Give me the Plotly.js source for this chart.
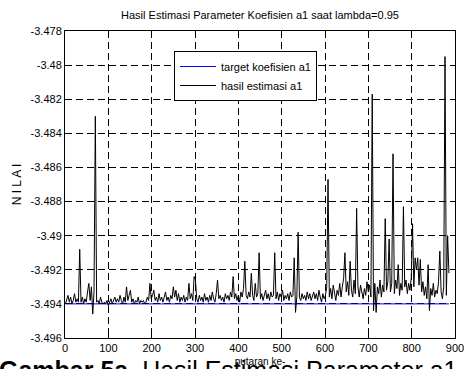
<!DOCTYPE html>
<html>
<head>
<meta charset="utf-8">
<script src="https://cdn.plot.ly/plotly-3.0.1.min.js"></script>
<style>
  html, body { margin: 0; padding: 0; background: #fff; }
  #chart { width: 464px; height: 369px; }
</style>
</head>
<body>
<div id="chart"></div>
<script>
// ---- data ----
const chartTitle = 'Hasil Estimasi Parameter Koefisien a1 saat lambda=0.95';
const xTitle = 'putaran ke-';
const yTitle = 'N I L A I';
const caption = '<b>Gambar 5a.</b> Hasil Estimasi Parameter a1';
const seriesNames = ['target koefisien a1', 'hasil estimasi a1'];

// target (constant) line
const targetIter = [1, 886];
const targetValue = [-3.494, -3.494];

// estimate: first iteration and spacing of the samples
const estimateFirstIter = 1;
const estimateIterStep = 3;
const estimateValue = [
  -3.4940,-3.4937,-3.4935,-3.4939,-3.4936,-3.4940,-3.4938,-3.4934,-3.4939,-3.4937,
  -3.4939,-3.4908,-3.4939,-3.4936,-3.4940,-3.4937,-3.4939,-3.4933,-3.4928,-3.4938,
  -3.4930,-3.4946,-3.4933,-3.4830,-3.4939,-3.4938,-3.4940,-3.4936,-3.4939,-3.4940,
  -3.4939,-3.4940,-3.4938,-3.4941,-3.4939,-3.4937,-3.4940,-3.4938,-3.4936,-3.4939,
  -3.4937,-3.4939,-3.4935,-3.4938,-3.4940,-3.4936,-3.4939,-3.4930,-3.4938,-3.4935,
  -3.4932,-3.4939,-3.4937,-3.4940,-3.4938,-3.4939,-3.4936,-3.4940,-3.4938,-3.4939,
  -3.4938,-3.4940,-3.4939,-3.4936,-3.4938,-3.4928,-3.4937,-3.4935,-3.4932,-3.4938,
  -3.4936,-3.4939,-3.4934,-3.4938,-3.4936,-3.4939,-3.4935,-3.4933,-3.4938,-3.4936,
  -3.4939,-3.4935,-3.4937,-3.4930,-3.4936,-3.4932,-3.4938,-3.4934,-3.4939,-3.4936,
  -3.4938,-3.4935,-3.4939,-3.4936,-3.4938,-3.4928,-3.4937,-3.4934,-3.4938,-3.4924,
  -3.4926,-3.4937,-3.4939,-3.4935,-3.4938,-3.4936,-3.4939,-3.4934,-3.4938,-3.4936,
  -3.4939,-3.4935,-3.4938,-3.4933,-3.4937,-3.4939,-3.4934,-3.4926,-3.4937,-3.4935,
  -3.4938,-3.4936,-3.4939,-3.4934,-3.4937,-3.4935,-3.4938,-3.4933,-3.4936,-3.4924,
  -3.4937,-3.4934,-3.4938,-3.4935,-3.4939,-3.4933,-3.4936,-3.4931,-3.4915,-3.4935,
  -3.4937,-3.4933,-3.4936,-3.4922,-3.4935,-3.4938,-3.4928,-3.4936,-3.4934,-3.4910,
  -3.4937,-3.4934,-3.4938,-3.4935,-3.4932,-3.4937,-3.4934,-3.4938,-3.4933,-3.4936,
  -3.4935,-3.4910,-3.4937,-3.4933,-3.4938,-3.4934,-3.4936,-3.4932,-3.4938,-3.4935,
  -3.4937,-3.4934,-3.4938,-3.4933,-3.4936,-3.4935,-3.4913,-3.4945,-3.4936,-3.4898,
  -3.4936,-3.4938,-3.4934,-3.4937,-3.4935,-3.4938,-3.4933,-3.4937,-3.4934,-3.4938,
  -3.4936,-3.4933,-3.4937,-3.4934,-3.4938,-3.4932,-3.4936,-3.4939,-3.4934,-3.4937,
  -3.4935,-3.4930,-3.4867,-3.4936,-3.4931,-3.4937,-3.4929,-3.4934,-3.4938,-3.4932,
  -3.4935,-3.4928,-3.4936,-3.4930,-3.4925,-3.4910,-3.4933,-3.4927,-3.4935,-3.4915,
  -3.4932,-3.4936,-3.4926,-3.4934,-3.4884,-3.4930,-3.4936,-3.4929,-3.4933,-3.4937,
  -3.4931,-3.4935,-3.4927,-3.4933,-3.4929,-3.4936,-3.4817,-3.4944,-3.4928,-3.4945,
  -3.4930,-3.4934,-3.4926,-3.4936,-3.4929,-3.4933,-3.4890,-3.4932,-3.4927,-3.4902,
  -3.4933,-3.4928,-3.4852,-3.4934,-3.4926,-3.4931,-3.4917,-3.4935,-3.4928,-3.4932,
  -3.4883,-3.4930,-3.4926,-3.4934,-3.4928,-3.4932,-3.4925,-3.4893,-3.4930,-3.4913,
  -3.4920,-3.4913,-3.4929,-3.4914,-3.4933,-3.4927,-3.4935,-3.4930,-3.4937,-3.4917,
  -3.4944,-3.4931,-3.4935,-3.4928,-3.4936,-3.4932,-3.4934,-3.4927,-3.4909,-3.4933,
  -3.4937,-3.4930,-3.4795,-3.4935,-3.4900,-3.4922
];

// axis ticks
const xTickVals = [0, 100, 200, 300, 400, 500, 600, 700, 800, 900];
const yTickVals = [-3.496, -3.494, -3.492, -3.49, -3.488, -3.486, -3.484, -3.482, -3.48, -3.478];
const yTickText = ['-3.496', '-3.494', '-3.492', '-3.49', '-3.488', '-3.486', '-3.484', '-3.482', '-3.48', '-3.478'];

// ---- chart ----
const FONT = 'Arial, "Liberation Sans", Helvetica, sans-serif';

const traces = [
  {
    type: 'scatter', mode: 'lines', name: seriesNames[0],
    x: targetIter, y: targetValue,
    line: { color: '#0000ff', width: 1 }
  },
  {
    type: 'scatter', mode: 'lines', name: seriesNames[1],
    x0: estimateFirstIter, dx: estimateIterStep, y: estimateValue,
    line: { color: '#000000', width: 1 }
  }
];

const axisCommon = {
  showline: true, linecolor: '#000', linewidth: 1, mirror: 'allticks',
  ticks: 'inside', ticklen: 4, tickwidth: 1, tickcolor: '#000',
  showgrid: true, gridcolor: '#000', gridwidth: 1, griddash: '7px,4px',
  zeroline: false, ticklabeloverflow: 'allow',
  tickfont: { family: FONT, size: 11, color: '#000' }
};

const layout = {
  width: 464, height: 369,
  margin: { l: 65, r: 9, t: 31, b: 31, pad: 0 },
  paper_bgcolor: '#fff', plot_bgcolor: '#fff',
  font: { family: FONT, size: 11, color: '#000' },
  title: {
    text: chartTitle, font: { family: FONT, size: 11, color: '#000' },
    xref: 'paper', x: 0.5, xanchor: 'center',
    yref: 'container', y: 1 - 15 / 369, yanchor: 'middle'
  },
  xaxis: Object.assign({}, axisCommon, {
    range: [0, 900], tickmode: 'array', tickvals: xTickVals,
    ticktext: xTickVals.map(String),
    title: { text: xTitle, font: { family: FONT, size: 10, color: '#000' }, standoff: 4 }
  }),
  yaxis: Object.assign({}, axisCommon, {
    range: [-3.496, -3.478], tickmode: 'array', tickvals: yTickVals, ticktext: yTickText,
    title: { text: yTitle, font: { family: FONT, size: 12, color: '#000' }, standoff: 6 }
  }),
  showlegend: true,
  legend: {
    x: (174 - 65) / 390, y: (338 - 51) / 307, xanchor: 'left', yanchor: 'top',
    bgcolor: '#fff', bordercolor: '#000', borderwidth: 1,
    font: { family: FONT, size: 11, color: '#000' },
    itemwidth: 36,
    tracegroupgap: 0
  },
  annotations: [
    {
      text: caption, xref: 'paper', yref: 'paper',
      x: -68 / 390, xanchor: 'left', y: -32 / 307, yanchor: 'middle',
      showarrow: false, font: { family: FONT, size: 25, color: '#000' }
    }
  ]
};

Plotly.newPlot('chart', traces, layout, { displayModeBar: false, staticPlot: true });
</script>
</body>
</html>
